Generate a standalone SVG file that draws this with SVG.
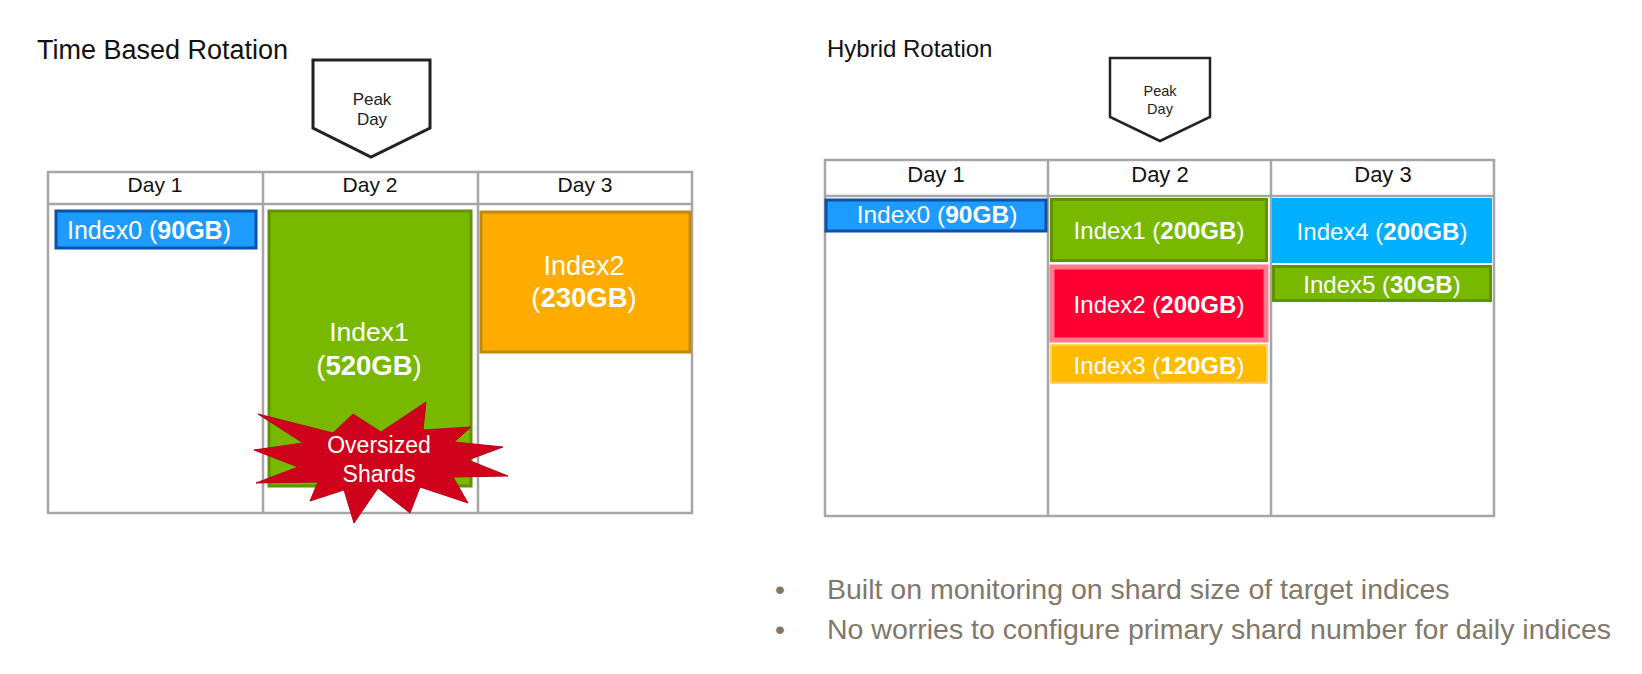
<svg xmlns="http://www.w3.org/2000/svg" width="1642" height="674" viewBox="0 0 1642 674">
<style>
text{font-family:"Liberation Sans",Arial,sans-serif}
.t{fill:#111}
.h{fill:#111;font-size:21px;text-anchor:middle}
.p{fill:#fff;stroke:#222;stroke-width:3;stroke-linejoin:miter}
.pt{fill:#222;text-anchor:middle}
.g{fill:none;stroke:#a6a6a6;stroke-width:2.5}
.w{fill:#fff;text-anchor:middle}
.b{font-weight:bold}
.bl{fill:#7f786b;font-size:28.5px}
</style>
<rect width="1642" height="674" fill="#fff"/>
<g id="left-panel">
<text class="t" font-size="27" x="37" y="59">Time Based Rotation</text>
<g id="left-peak"><path class="p" d="M313 60H430V128L371 157L313 128Z"/>
<text class="pt" font-size="17" x="372" y="105">Peak</text><text class="pt" font-size="17" x="372" y="125">Day</text></g>
<g id="left-grid"><path class="g" d="M48 172H692V513H48ZM48 204H692M263 172V513M478 172V513"/>
<text class="h" x="155" y="192">Day 1</text><text class="h" x="370" y="192">Day 2</text><text class="h" x="585" y="192">Day 3</text></g>
<g id="l-index0"><rect x="56" y="211" width="200" height="37" fill="#1e9bff" stroke="#0a52a8" stroke-width="3"/>
<text class="w" font-size="25" x="149" y="239">Index0 (<tspan class="b">90GB</tspan>)</text></g>
<g id="l-index1"><rect x="269" y="211" width="202" height="275" fill="#78b900" stroke="#5f9300" stroke-width="3"/>
<text class="w" font-size="26.500" x="369" y="341">Index1</text><text class="w" font-size="27.500" x="369" y="375">(<tspan class="b">520GB</tspan>)</text></g>
<g id="l-index2"><rect x="481" y="212" width="209" height="140" fill="#ffab00" stroke="#c08a10" stroke-width="3"/>
<text class="w" font-size="27" x="584" y="275">Index2</text><text class="w" font-size="27.500" x="584" y="307">(<tspan class="b">230GB</tspan>)</text></g>
<g id="l-burst"><path fill="#d0021b" stroke="#b8051a" stroke-width="1" d="M258 414L333 433L353 414L381 432L426 402L423 430L471 427L454 442L503 447L468 460L508 476L453 477L468 503L420 487L410 513L378 488L354 523L344 490L310 501L318 482L256 483L298 467L254 450L303 443Z"/>
<text class="w" font-size="23" x="379" y="453">Oversized</text><text class="w" font-size="23" x="379" y="482">Shards</text></g>
</g>
<g id="right-panel">
<text class="t" font-size="24" x="827" y="57">Hybrid Rotation</text>
<g id="right-peak"><path class="p" style="stroke-width:2.5" d="M1110 58H1210V117L1160 141L1110 117Z"/>
<text class="pt" font-size="14.500" x="1160" y="96">Peak</text><text class="pt" font-size="14.500" x="1160" y="114">Day</text></g>
<g id="right-grid"><path class="g" d="M825 160H1494V516H825ZM825 196H1494M1048 160V516M1271 160V516"/>
<text class="h" style="font-size:22px" x="936" y="182">Day 1</text><text class="h" style="font-size:22px" x="1160" y="182">Day 2</text><text class="h" style="font-size:22px" x="1383" y="182">Day 3</text></g>
<g id="r-index0"><rect x="826" y="200" width="220" height="31" fill="#1e9bff" stroke="#0a52a8" stroke-width="3"/>
<text class="w" font-size="24.500" x="937" y="223">Index0 (<tspan class="b">90GB</tspan>)</text></g>
<g id="r-index1"><rect x="1051.500" y="199.500" width="215" height="61" fill="#78b900" stroke="#5f9300" stroke-width="3"/>
<text class="w" font-size="24" x="1159" y="239">Index1 (<tspan class="b">200GB</tspan>)</text></g>
<g id="r-index2"><rect x="1052" y="267" width="214" height="73" fill="#ff0033" stroke="#ff7b8b" stroke-width="5"/>
<text class="w" font-size="24" x="1159" y="313">Index2 (<tspan class="b">200GB</tspan>)</text></g>
<g id="r-index3"><rect x="1051" y="345" width="216" height="38" fill="#ffbb00" stroke="#ffd45c" stroke-width="2"/>
<text class="w" font-size="24" x="1159" y="374">Index3 (<tspan class="b">120GB</tspan>)</text></g>
<g id="r-index4"><rect x="1272" y="198" width="220" height="65" fill="#00b0ff"/>
<text class="w" font-size="24" x="1382" y="240">Index4 (<tspan class="b">200GB</tspan>)</text></g>
<g id="r-index5"><rect x="1273.500" y="266.500" width="217" height="34" fill="#78b900" stroke="#5f9300" stroke-width="3"/>
<text class="w" font-size="24" x="1382" y="293">Index5 (<tspan class="b">30GB</tspan>)</text></g>
<g id="bullets">
<text class="bl" x="775" y="599">•</text><text class="bl" x="827" y="599">Built on monitoring on shard size of target indices</text>
<text class="bl" x="775" y="639">•</text><text class="bl" x="827" y="639">No worries to configure primary shard number for daily indices</text>
</g>
</g>
</svg>
